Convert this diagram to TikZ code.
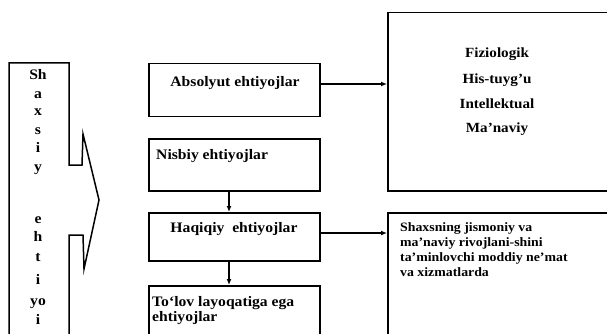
\documentclass[tikz,border=0pt]{standalone}
\usepackage{fontspec}
\setmainfont{Liberation Serif}[FakeStretch=1.08]
\usetikzlibrary{arrows.meta}
\begin{document}
\begin{tikzpicture}[x=1pt,y=-1pt,
  box/.style={draw, line width=1.5pt, inner sep=0pt, anchor=north west},
  txt/.style={inner sep=0pt, anchor=base, font=\bfseries\fontsize{14.5}{15}\selectfont},
  ltxt/.style={txt, anchor=base west},
  btxt/.style={txt, font=\bfseries\fontsize{14}{15}\selectfont},
  stxt/.style={inner sep=0pt, anchor=base west, font=\bfseries\fontsize{12.8}{13}\selectfont},
  arr/.style={-{Latex[length=6pt,width=5pt]}, line width=1.5pt},
  outline/.style={draw, line width=1.5pt, line join=miter}]
\useasboundingbox (0,0) rectangle (607,334);
\clip (0,0) rectangle (607,334);

% left arrow-shaped column
\draw[outline] (9,345) -- (9,63) -- (69,63) -- (69,165) -- (82,165) -- (83,134)
  -- (99,200) -- (84,269) -- (83,235) -- (69,235) -- (69,345);
\foreach \l/\y [count=\i] in {Sh/76, a/95, x/112, s/130, i/148, y/167,
    e/219, h/237, t/257, i/280, yo/301, i/320}
  \node[txt] (L\i) at (38,\y+4) {\l};

% middle boxes
\node[box, minimum width=171pt, minimum height=53pt] (abs) at (148,63) {};
\node[txt] (abst) at (235,87) {Absolyut ehtiyojlar};
\node[box, minimum width=171pt, minimum height=52pt] (nis) at (148,138) {};
\node[ltxt] (nist) at (156,159.5) {Nisbiy ehtiyojlar};
\node[box, minimum width=171pt, minimum height=48pt] (haq) at (148,212) {};
\node[txt] (haqt) at (234,232.5) {Haqiqiy\ \ ehtiyojlar};
\node[box, minimum width=171pt, minimum height=70pt] (tol) at (148,285) {};
\node[ltxt] (tolt1) at (152,306.5) {To`lov layoqatiga ega};
\node[ltxt] (tolt2) at (152,321.5) {ehtiyojlar};

% right boxes
\node[box, minimum width=240pt, minimum height=178pt] (big) at (387,12) {};
\node[btxt] (b1) at (497,57.5) {Fiziologik};
\node[btxt] (b2) at (497,84) {His-tuyg'u};
\node[btxt] (b3) at (497,108.5) {Intellektual};
\node[btxt] (b4) at (497,132.5) {Ma'naviy};
\node[box, minimum width=240pt, minimum height=140pt] (res) at (387,212) {};
\node[stxt] (r1) at (400,231) {Shaxsning jismoniy va};
\node[stxt] (r2) at (400,246) {ma'naviy rivojlani-shini};
\node[stxt] (r3) at (400,261) {ta'minlovchi moddiy ne'mat};
\node[stxt] (r4) at (400,276) {va xizmatlarda};

% connectors
\coordinate (hA) at (0,84);
\coordinate (hB) at (0,233);
\coordinate (vx) at (229,0);
\draw[arr] (abs.east |- hA) -- (big.west |- hA);
\draw[arr] (nis.south -| vx) -- (haq.north -| vx);
\draw[arr] (haq.south -| vx) -- (tol.north -| vx);
\draw[arr] (haq.east |- hB) -- (res.west |- hB);
\end{tikzpicture}
\end{document}
